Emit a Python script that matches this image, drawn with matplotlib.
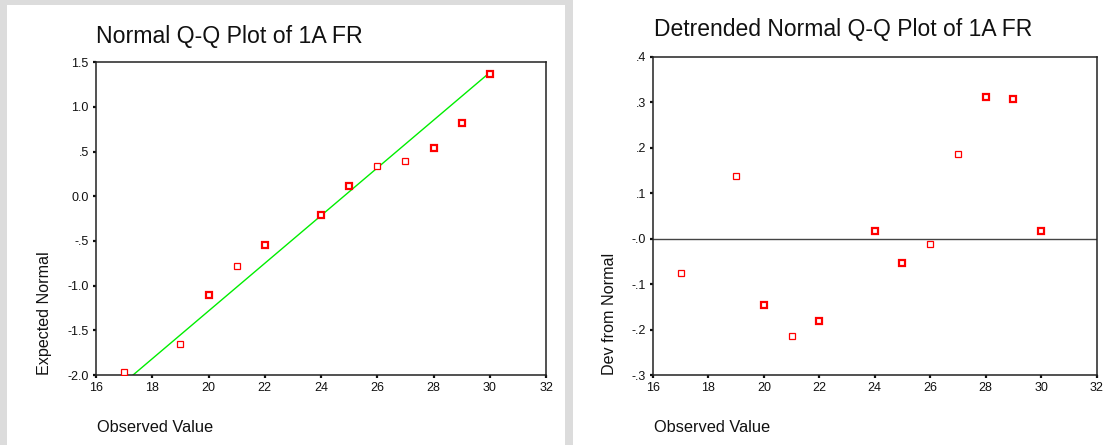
"""
Normal Q-Q and detrended normal Q-Q plots of 1A FR (SPSS style output)
"""

import matplotlib
matplotlib.use("Agg")
import matplotlib.pyplot as plt
from matplotlib.patches import Rectangle

# observed values (distinct) and how many cases share each value
observed = [17, 19, 20, 21, 22, 24, 25, 26, 27, 28, 29, 30]
n_cases = [1, 1, 2, 1, 2, 2, 2, 1, 1, 2, 2, 2]

# expected normal scores
expected = [-1.97, -1.65, -1.11, -0.78, -0.55, -0.21, 0.12, 0.34, 0.40, 0.54, 0.82, 1.37]

# deviations
deviation = [-0.075, 0.138, -0.147, -0.214, -0.181, 0.017, -0.054, -0.011, 0.187, 0.312, 0.308, 0.017]

# reference normal line: mean and sd of the observed data
obs_mean = 24.81
obs_sd = 3.746

x_ticks = [16, 18, 20, 22, 24, 26, 28, 30, 32]
qq_yticks = [1.5, 1.0, 0.5, 0.0, -0.5, -1.0, -1.5, -2.0]
qq_ylabels = ["1.5", "1.0", ".5", "0.0", "-.5", "-1.0", "-1.5", "-2.0"]
dt_yticks = [0.4, 0.3, 0.2, 0.1, 0.0, -0.1, -0.2, -0.3]
dt_ylabels = [".4", ".3", ".2", ".1", "-.0", "-.1", "-.2", "-.3"]

plt.rcParams["font.family"] = ["Liberation Sans", "DejaVu Sans"]

W, H = 1105, 445
fig = plt.figure(figsize=(W / 100, H / 100), dpi=100)
fig.patch.set_facecolor("white")

# gray window borders of the original output viewer
gray = "#dcdcdc"
for x, y, w, h in [(0, 0, 7, 445), (0, 0, 565, 5), (565, 0, 8, 445)]:
    fig.add_artist(Rectangle((x / W, 1 - (y + h) / H), w / W, h / H,
                             transform=fig.transFigure, facecolor=gray,
                             edgecolor="none", zorder=0))


def px_axes(left, top, right, bottom):
    return fig.add_axes([left / W, 1 - bottom / H, (right - left) / W, (bottom - top) / H])


def style_axes(ax, yticks, ylabels, ylim):
    ax.set_xlim(16, 32)
    ax.set_ylim(*ylim)
    ax.set_xticks(x_ticks)
    ax.set_xticklabels([str(t) for t in x_ticks])
    ax.set_yticks(yticks)
    ax.set_yticklabels(ylabels)
    ax.tick_params(direction="out", length=2.2, width=1.6, pad=3,
                   labelsize=9, colors="#111111")
    for s in ax.spines.values():
        s.set_linewidth(1.1)
        s.set_color("#222222")


def draw_points(ax, xs, ys):
    for x, y, n in zip(xs, ys, n_cases):
        ax.plot(x, y, "s", ms=4.4, mfc="white", mec="#ff0000",
                mew=0.9 if n == 1 else 1.6, zorder=3)


# left: normal Q-Q plot
ax1 = px_axes(96, 62.3, 546, 375)
line_x = [min(observed), max(observed)]
line_y = [(v - obs_mean) / obs_sd for v in line_x]
ax1.plot(line_x, line_y, color="#00ee00", lw=1.0, zorder=2)
draw_points(ax1, observed, expected)
style_axes(ax1, qq_yticks, qq_ylabels, (-2.0, 1.5))

fig.text(96 / W, 1 - 43 / H, "Normal Q-Q Plot of 1A FR", fontsize=16.7,
         ha="left", va="baseline", color="#111111")
fig.text(45 / W, 1 - 375 / H, "Expected Normal", rotation=90, fontsize=11.6,
         ha="center", va="bottom", color="#111111")
fig.text(97 / W, 1 - 428 / H, "Observed Value", fontsize=11.8,
         ha="left", va="center", color="#111111")

# right: detrended normal Q-Q plot
ax2 = px_axes(653, 56.7, 1096.5, 375)
ax2.axhline(0, color="#444444", lw=1.0, zorder=1)
draw_points(ax2, observed, deviation)
style_axes(ax2, dt_yticks, dt_ylabels, (-0.3, 0.4))

fig.text(654 / W, 1 - 36 / H, "Detrended Normal Q-Q Plot of 1A FR", fontsize=16.5,
         ha="left", va="baseline", color="#111111")
fig.text(609 / W, 1 - 375 / H, "Dev from Normal", rotation=90, fontsize=11.6,
         ha="center", va="bottom", color="#111111")
fig.text(654 / W, 1 - 428 / H, "Observed Value", fontsize=11.8,
         ha="left", va="center", color="#111111")

fig.savefig("out.png", dpi=100, facecolor=fig.get_facecolor())
